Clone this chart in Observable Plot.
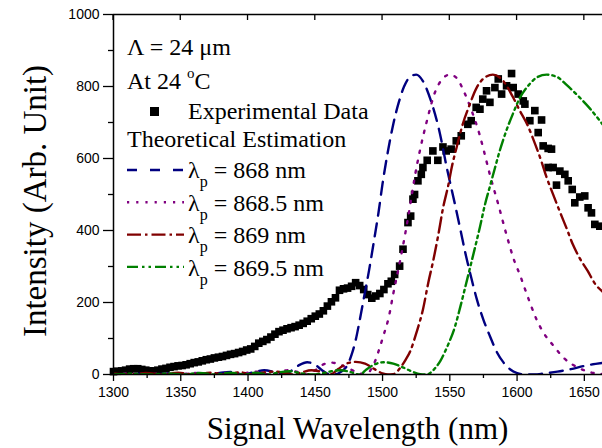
<!DOCTYPE html>
<html><head><meta charset="utf-8">
<script src="https://cdn.jsdelivr.net/npm/d3@7"></script>
<script src="https://cdn.jsdelivr.net/npm/@observablehq/plot@0.6"></script>
<style>html,body{margin:0;padding:0;background:#fff;} #chart{width:602px;height:448px;}</style>
</head><body><div id="chart"></div>
<script>
// ---------- tick values ----------
const xMajorTicks = [1300, 1350, 1400, 1450, 1500, 1550, 1600, 1650];
const xMinorTicks = [1325, 1375, 1425, 1475, 1525, 1575, 1625];
const yMajorTicks = [0, 200, 400, 600, 800, 1000];
const yMinorTicks = [100, 300, 500, 700, 900];

// ---------- experimental data ----------
const expWavelength = [1300,1303,1306,1309,1312,1315,1318,1321,1324,1327,1330,1333,1336,1339,1342,1345,1348,1351,1354,1357,1360,1363,1366,1369,1372,1375,1378,1381,1384,1387,1390,1393,1396,1399,1402,1405,1408,1411,1414,1417,1420,1423,1426,1429,1432,1435,1438,1441,1444,1447,1450,1453,1456,1459,1462,1465,1468,1471,1474,1477,1480,1483,1486,1489,1492,1495,1498,1501,1504,1506.5,1509,1512.7,1515.2,1518.9,1520.9,1522.6,1523.8,1526.3,1528.8,1530,1533.2,1537.4,1541.1,1544.9,1547.3,1551,1554.8,1558.5,1563.4,1565.9,1569.6,1572.4,1574.5,1577.3,1579.8,1583.5,1586,1588.5,1592.2,1595.9,1597.1,1600.8,1604.6,1605.8,1609.5,1613.2,1615.7,1618.2,1619.4,1623.1,1625.6,1623.1,1626.8,1629.3,1631.8,1635.5,1638,1641,1642.9,1646.6,1650.3,1652.8,1655.3,1657.8,1661.5];
const expIntensity  = [8,9,10,12,15,16,16,14,12,10,10,12,15,17,20,22,24,25,27,30,33,35,38,41,43,46,48,50,53,56,58,61,64,68,71,78,87,92,97,104,112,119,123,127,130,133,137,142,148,155,162,168,177,190,202,213,234,238,240,245,255,247,236,222,212,218,225,236,252,259,278,301,348,422,440,487,500,538,556,575,595,621,595,632,621,626,649,663,695,705,742,737,765,788,756,797,821,779,802,836,797,779,760,751,705,733,672,707,635,628,626,575,575,526,565,556,538,514,477,493,496,463,449,417,412];

// ---------- theoretical estimations ----------
const wl868 = [1300,1312,1322,1332,1342,1352,1362,1372,1380,1388,1396,1404,1412,1420,1427,1432,1438,1444,1450,1455,1460,1464,1468,1471,1474,1477,1480,1483,1486,1490,1494,1497,1500,1504,1508,1512,1516,1520,1525,1530,1536,1542,1548,1554,1558,1562,1566,1570,1575,1580,1585,1590,1595,1600,1606,1613,1620,1630,1640,1650,1663.5];
const int868 = [1,0,3,0,4,0,4,0,5,7,0,6,12,6,0,10,26,34,27,12,1,0,5,13,27,55,95,150,210,290,380,450,530,620,696,755,800,825,833,815,760,680,570,470,400,330,268,210,152,105,62,33,14,4,0,0,3,8,15,24,32];

const wl8685 = [1300,1312,1324,1336,1348,1360,1372,1382,1391,1400,1408,1415,1422,1430,1437,1444,1450,1456,1462,1468,1474,1480,1486,1489,1492,1495,1498,1501,1504.5,1508,1513,1517,1520.5,1524,1528,1533,1539,1545,1550,1555,1560,1566,1572,1575,1580,1586,1592,1598,1602,1606,1610,1614,1619,1627,1635,1646,1657,1663.5];
const int8685 = [0,3,0,3,0,4,0,5,0,5,8,0,5,12,7,0,12,28,33,28,18,8,1,3,18,42,76,112,157,225,315,394,470,550,626,705,784,823,833,824,790,735,668,626,552,473,390,315,278,236,195,157,120,80,45,18,4,1];

const wl869 = [1300,1312,1324,1336,1348,1360,1372,1384,1394,1404,1412,1420,1428,1434,1440,1447,1454,1461,1467,1473,1480,1487,1494,1500,1504,1508,1510,1513,1517,1520.5,1525.5,1530,1534,1538,1541.5,1545,1549,1551.4,1555,1560,1564,1570,1576,1582,1589.6,1597,1602,1608,1612,1618,1622,1626.7,1631.6,1636.6,1641.5,1646.4,1652.6,1657.6,1663.5];
const int869 = [3,0,4,0,5,0,5,0,6,0,6,8,4,0,6,12,8,0,15,30,35,30,15,3,0,1,5,18,40,64,120,180,255,322,389,463,528,575,630,700,742,797,825,833,816,770,733,691,654,593,547,501,454,408,361,324,287,254,230];

const wl8695 = [1300,1314,1328,1340,1352,1364,1376,1387,1397,1406,1415,1423,1431,1440,1448,1455,1462,1469,1476,1483,1488,1494,1501,1508,1515,1522,1528,1533,1536,1540,1543,1546,1549,1554,1557.6,1561.3,1565,1568.7,1572.4,1576,1580,1583.5,1587,1592,1597,1602,1609.4,1615,1622,1630,1636.6,1646.4,1653.9,1663.5];
const int8695 = [0,2,0,3,0,4,0,5,0,5,0,6,9,3,0,3,9,12,7,0,14,28,34,30,20,8,1,0,6,22,38,60,85,135,185,240,296,352,410,470,525,573,620,677,725,768,807,826,833,826,805,770,740,695];

// ---------- legend text ----------
const pumpLabels = ["868", "868.5", "869", "869.5"];
const seriesColors = ["#000080", "#800080", "#800000", "#008000"];
const plotDash = ["13,8", "2.2,8", "15,5,2.5,5", "11,4,2.5,4,2.5,4"];
const legendDash = ["10,13", "2.2,7", "14,4,2.5,4", "11,4,2.5,4,2.5,4"];

const expData = expWavelength.map((w, i) => ({w, v: expIntensity[i]}));
const series = [
  {wl: wl868, v: int868},
  {wl: wl8685, v: int8685},
  {wl: wl869, v: int869},
  {wl: wl8695, v: int8695}
].map((s, k) => s.wl.map((w, i) => ({w, v: s.v[i], k})));

const tickFont = "'Liberation Sans', Arial, sans-serif";
const serif = "'Liberation Serif', 'Times New Roman', serif";

const chart = Plot.plot({
  width: 602,
  height: 448,
  marginLeft: 113,
  marginRight: 0,
  marginTop: 14,
  marginBottom: 74,
  style: {fontFamily: tickFont, fontSize: "14px", color: "#000", background: "#fff", overflow: "visible"},
  x: {domain: [1300, 1663.5]},
  y: {domain: [0, 1000]},
  marks: [
    Plot.axisX({ticks: xMajorTicks, tickSize: 7, tickPadding: 6, tickFormat: d => String(d), label: null, fontSize: 14, strokeWidth: 1.3}),
    Plot.axisX({ticks: xMinorTicks, tickSize: 4, tickFormat: () => "", label: null, strokeWidth: 1.3}),
    Plot.axisY({ticks: yMajorTicks, tickSize: 10, tickPadding: 4, tickFormat: d => String(d), label: null, fontSize: 14, strokeWidth: 1.3}),
    Plot.axisY({ticks: yMinorTicks, tickSize: 5, tickFormat: () => "", label: null, strokeWidth: 1.3}),
    Plot.dot(expData, {x: "w", y: "v", symbol: "square", r: 4.3, fill: "#000", stroke: "none"}),
    ...series.map((d, k) => Plot.line(d, {
      x: "w", y: "v", stroke: seriesColors[k], strokeWidth: 2.4,
      strokeDasharray: plotDash[k], curve: "monotone-x", clip: true
    })),
    Plot.ruleX([1300], {strokeWidth: 1.5}),
    Plot.ruleY([0, 1000], {strokeWidth: 1.5})
  ]
});

document.getElementById("chart").appendChild(chart);

const svg = d3.select(chart);
const sx = chart.scale("x");
const sy = chart.scale("y");

// top mirror ticks (inward)
const topY = sy.apply(1000);
svg.append("g").selectAll("line").data(xMajorTicks).join("line")
  .attr("x1", d => sx.apply(d)).attr("x2", d => sx.apply(d))
  .attr("y1", topY).attr("y2", topY + 6)
  .attr("stroke", "#000").attr("stroke-width", 1.3);

// axis titles
svg.append("text")
  .attr("x", (sx.apply(1300) + 602) / 2).attr("y", 439)
  .attr("text-anchor", "middle")
  .style("font-family", serif).style("font-size", "31px").attr("fill", "#000")
  .text("Signal Wavelength (nm)");

svg.append("text")
  .attr("transform", "translate(46,201) rotate(-90)")
  .attr("text-anchor", "middle")
  .style("font-family", serif).style("font-size", "33px").attr("fill", "#000")
  .text("Intensity (Arb. Unit)");

// legend
const lg = svg.append("g").style("font-family", serif).style("font-size", "24px")
  .attr("fill", "#000").attr("text-anchor", "start");
lg.append("text").attr("x", 127).attr("y", 55).text("\u039B = 24 \u03BCm");
const t2 = lg.append("text").attr("x", 127).attr("y", 89);
t2.append("tspan").text("At 24 ");
t2.append("tspan").attr("dy", -11).style("font-size", "15px").text("o");
t2.append("tspan").attr("dy", 11).text("C");
lg.append("rect").attr("x", 150).attr("y", 107).attr("width", 9).attr("height", 9).attr("fill", "#000");
lg.append("text").attr("x", 188).attr("y", 119).text("Experimental Data");
lg.append("text").attr("x", 127).attr("y", 147).text("Theoretical Estimation");
pumpLabels.forEach((p, i) => {
  const ly = 170 + 32.3 * i;
  lg.append("line").attr("x1", 127).attr("x2", 184).attr("y1", ly).attr("y2", ly)
    .attr("stroke", seriesColors[i]).attr("stroke-width", 2.4).attr("stroke-dasharray", legendDash[i]);
  const t = lg.append("text").attr("x", 188).attr("y", 178.3 + 32.5 * i);
  t.append("tspan").text("\u03BB");
  t.append("tspan").attr("dy", 9).style("font-size", "16px").text("p");
  t.append("tspan").attr("dy", -9).text(" = " + p + " nm");
});
</script>
</body></html>
